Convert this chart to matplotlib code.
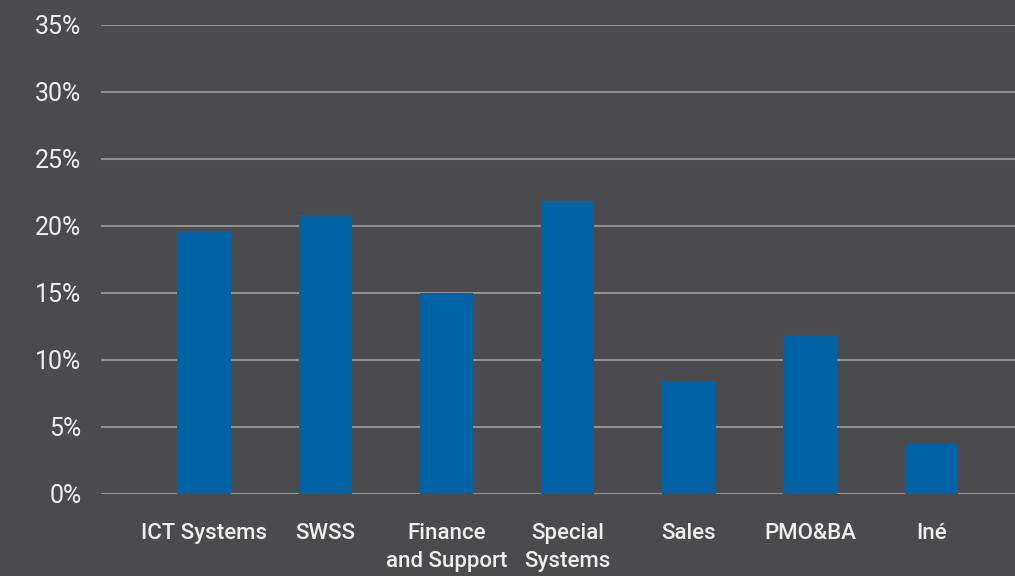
import matplotlib
matplotlib.use("Agg")
import matplotlib.pyplot as plt
from matplotlib.ticker import FuncFormatter

categories = ["ICT Systems", "SWSS", "Finance\nand Support", "Special\nSystems", "Sales", "PMO&BA", "Iné"]
values = [19.6, 20.8, 15.0, 21.9, 8.4, 11.9, 3.7]
yticks = [0, 5, 10, 15, 20, 25, 30, 35]

plt.rcParams['font.family'] = ['Roboto', 'DejaVu Sans']

bg = "#4b4b4d"
fig = plt.figure(figsize=(10.15, 5.76), dpi=100, facecolor=bg)
ax = fig.add_axes([0.0995, 0.1424, 0.9005, 0.8142])
ax.set_facecolor(bg)

x = list(range(len(categories)))
ax.bar(x, values, width=0.44, color="#0063a6", zorder=3)

ax.set_ylim(0, 35)
ax.set_xlim(-0.85, 6.69)
ax.set_yticks(yticks)
ax.yaxis.set_major_formatter(FuncFormatter(lambda v, p: f"{int(v)}%"))
ax.grid(axis="y", color="#8f8f8f", linewidth=1.5, zorder=1)
ax.set_xticks(x)
ax.set_xticklabels(categories, fontsize=16, color="#eeeeee", linespacing=1.45,
                   fontweight="medium")
for lab in ax.get_yticklabels():
    lab.set_fontsize(18)
    lab.set_color("#eeeeee")
ax.tick_params(axis="both", length=0)
ax.tick_params(axis="y", pad=14)
ax.tick_params(axis="x", pad=21)
for s in ax.spines.values():
    s.set_visible(False)

fig.savefig("out.png", dpi=100, facecolor=bg)
